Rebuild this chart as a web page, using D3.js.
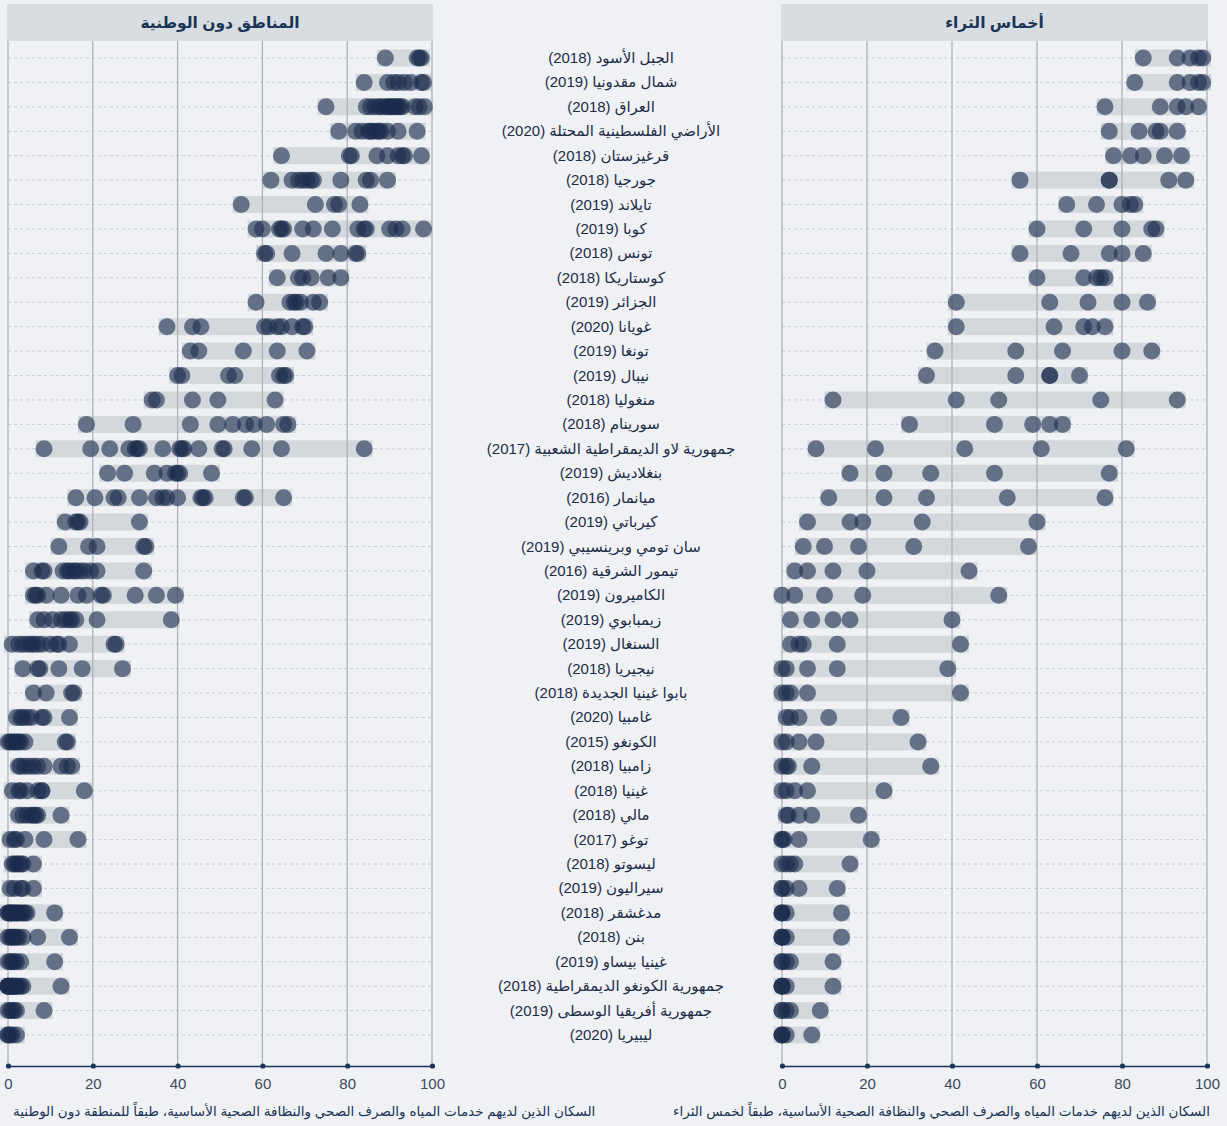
<!DOCTYPE html>
<html>
<head>
<meta charset="utf-8">
<script src="https://cdn.jsdelivr.net/npm/d3@7"></script>
<style>
html,body{margin:0;padding:0;background:#eff1f5;}
svg{display:block;}
</style>
</head>
<body>
<div id="chart"></div>
<script>
const countries = [
"الجبل الأسود (2018)","شمال مقدونيا (2019)","العراق (2018)","الأراضي الفلسطينية المحتلة (2020)","قرغيزستان (2018)",
"جورجيا (2018)","تايلاند (2019)","كوبا (2019)","تونس (2018)","كوستاريكا (2018)",
"الجزائر (2019)","غويانا (2020)","تونغا (2019)","نيبال (2019)","منغوليا (2018)",
"سورينام (2018)","جمهورية لاو الديمقراطية الشعبية (2017)","بنغلاديش (2019)","ميانمار (2016)","كيرباتي (2019)",
"سان تومي وبرينسيبي (2019)","تيمور الشرقية (2016)","الكاميرون (2019)","زيمبابوي (2019)","السنغال (2019)",
"نيجيريا (2018)","بابوا غينيا الجديدة (2018)","غامبيا (2020)","الكونغو (2015)","زامبيا (2018)",
"غينيا (2018)","مالي (2018)","توغو (2017)","ليسوتو (2018)","سيراليون (2019)",
"مدغشقر (2018)","بنن (2018)","غينيا بيساو (2019)","جمهورية الكونغو الديمقراطية (2018)","جمهورية أفريقيا الوسطى (2019)",
"ليبيريا (2020)"
];

const subnational = [
[89, 96.5, 97, 97.5],
[84, 89.5, 91, 92, 93.5, 95, 97.5, 98],
[75, 84.5, 85.5, 86.5, 87.5, 88, 89, 89.5, 90, 90.5, 91, 91.5, 92, 92.5, 93, 96, 97, 98.2],
[78, 82, 83.5, 85, 85.5, 86, 87, 87.5, 88, 89.5, 92, 96.5],
[64.5, 80.5, 81, 87, 89.5, 92, 93, 93.5, 97.5],
[62, 67, 68.5, 69.5, 70.5, 71.5, 72, 78.5, 84.5, 85.5, 89.5],
[55, 72.5, 77, 78, 83],
[58.5, 60, 64, 64.5, 65, 69.5, 72, 76.5, 82.5, 84, 84.5, 90, 91.5, 93, 98],
[60.5, 61, 67, 75, 78.5, 82, 82.5],
[63.5, 68.5, 69.5, 71.5, 75.5, 78.5],
[58.5, 66.5, 67.5, 68, 69, 72, 73.5],
[37.5, 43.5, 45.5, 60.5, 61.5, 63.5, 64.5, 67, 69.5, 70],
[43, 45, 55.5, 63.5, 70.5],
[40, 41, 52, 53.5, 64, 65, 65.5],
[34, 35, 43.5, 49.5, 63],
[18.5, 29.5, 43, 49.5, 53, 56, 58, 61, 65, 66],
[8.5, 19.5, 24, 28.5, 30, 30.5, 31, 36.5, 40.5, 41, 41.5, 45, 50.5, 51, 57.5, 64.5, 84],
[23.5, 27.5, 34.5, 37.5, 39.5, 40, 40.5, 48],
[16, 20.5, 25, 26, 31, 35, 36.5, 37.5, 40, 45.5, 46, 46.5, 55.5, 56, 65],
[13.5, 16, 16.5, 17, 31],
[12, 19, 21, 32, 32.5],
[6, 8, 8.5, 13, 14, 14.5, 15.5, 16, 17, 18, 19.5, 21, 32],
[6, 6.5, 7, 9, 12.5, 16.5, 18.5, 22, 22.5, 30, 35, 39.5],
[7, 8.5, 10.5, 12.5, 13.5, 14.5, 15, 16, 21, 38.5],
[1, 2.5, 3.5, 4.5, 5.5, 6, 7, 8, 10, 11.5, 12, 14.5, 25, 25.5],
[3.5, 7, 7.5, 12, 17.5, 27],
[6, 9, 15, 15.5],
[2, 3, 3.5, 4.5, 5.5, 8, 8.5, 14.5],
[0, 0.5, 1, 1.5, 2, 2.5, 3, 4, 13.5, 14],
[2.5, 3, 4, 5, 6, 7, 8.5, 12.5, 14, 15],
[1, 2.5, 3, 4.5, 7, 8, 8, 18],
[2.5, 3.5, 4.5, 5.5, 6, 6.5, 7, 12.5],
[0.5, 1.5, 2, 4, 8.5, 16.5],
[1, 1.5, 2, 2.5, 3, 3.5, 6],
[0.5, 1.5, 3, 3.5, 6],
[0, 0, 0.5, 0.5, 1, 1, 1.5, 2, 2, 2.5, 3, 3.5, 4, 4.5, 11],
[0, 0.5, 1, 1, 1.5, 2, 2.5, 3.5, 7, 14.5],
[0, 0.5, 1, 1.5, 2, 3, 11],
[0, 0, 0, 0, 0.5, 0.5, 1, 1, 1, 1.5, 1.5, 2, 2, 2.5, 3, 3.5, 12.5],
[0, 0.5, 1, 1.5, 2, 8.5],
[0, 0, 0.5, 1, 2]
];

const quintiles = [
[85, 93, 96, 98, 99],
[83, 93, 96, 98, 99],
[76, 89, 93, 95, 98],
[77, 84, 88, 89, 93],
[78, 82, 85, 90, 94],
[56, 77, 77, 91, 95],
[67, 74, 80, 82, 83],
[60, 71, 80, 87, 88],
[56, 68, 77, 80, 85],
[60, 71, 74, 75, 76],
[41, 63, 72, 80, 86],
[41, 64, 71, 73, 76],
[36, 55, 66, 80, 87],
[34, 55, 63, 63, 70],
[12, 41, 51, 75, 93],
[30, 50, 59, 63, 66],
[8, 22, 43, 61, 81],
[16, 24, 35, 50, 77],
[11, 24, 34, 53, 76],
[6, 16, 19, 33, 60],
[5, 10, 18, 31, 58],
[3, 6, 12, 20, 44],
[0, 3, 10, 19, 51],
[2, 7, 12, 16, 40],
[2, 4, 5, 13, 42],
[0, 1, 6, 13, 39],
[0, 1, 2, 6, 42],
[1, 2, 4, 11, 28],
[0, 1, 4, 8, 32],
[0, 1, 1.5, 7, 35],
[0, 1, 3, 6, 24],
[1, 1.5, 4, 7, 18],
[0, 0, 0.5, 4, 21],
[0, 1, 2, 3, 16],
[0, 0, 1, 4, 13],
[0, 0, 0, 1, 14],
[0, 0, 0, 1, 14],
[0, 0, 1, 2, 12],
[0, 0, 0, 1, 12],
[0, 0, 1, 2, 9],
[0, 0, 0, 1, 7]
];

const tickValues = [0, 20, 40, 60, 80, 100];
const panelTitles = ["المناطق دون الوطنية", "أخماس الثراء"];
const axisTitles = [
"السكان الذين لديهم خدمات المياه والصرف الصحي والنظافة الصحية الأساسية، طبقاً للمنطقة دون الوطنية",
"السكان الذين لديهم خدمات المياه والصرف الصحي والنظافة الصحية الأساسية، طبقاً لخمس الثراء"
];

const W = 1227, H = 1126;
const BG = "#eff1f5";
const NAVY = "#1b3556";
const DOT = "#1a2b4c";
const FONT = "Arial, 'Liberation Sans', 'DejaVu Sans', sans-serif";

const svg = d3.select("#chart").append("svg")
  .attr("width", W).attr("height", H)
  .style("font-family", FONT);
svg.append("rect").attr("width", W).attr("height", H).attr("fill", BG);

const y = d3.scalePoint().domain(countries).range([58, 1035]);
const headerTop = 4, headerBottom = 41, axisY = 1066;
const R = 8.5, barH = 17;

const panels = [
  {data: subnational, x: d3.scaleLinear().domain([0, 100]).range([8, 432]), title: panelTitles[0], axisTitle: axisTitles[0], titleAlign: "left"},
  {data: quintiles, x: d3.scaleLinear().domain([0, 100]).range([782, 1207]), title: panelTitles[1], axisTitle: axisTitles[1], titleAlign: "right"}
];

panels.forEach(p => {
  const g = svg.append("g");
  const [x0, x1] = p.x.range();
  // header
  g.append("rect").attr("x", x0 - 1).attr("y", headerTop).attr("width", x1 - x0 + 2).attr("height", headerBottom - headerTop)
    .attr("fill", "#d8dde2");
  g.append("text").attr("x", (x0 + x1) / 2).attr("y", 28).attr("text-anchor", "middle")
    .style("direction", "rtl")
    .attr("font-size", 15.5).attr("font-weight", "bold").attr("fill", NAVY).text(p.title);

  // dotted row lines
  g.selectAll("line.row").data(countries).join("line").attr("class", "row")
    .attr("x1", x0).attr("x2", x1).attr("y1", d => y(d)).attr("y2", d => y(d))
    .attr("stroke", "#c9cdd4").attr("stroke-width", 1).attr("stroke-dasharray", "3,3");

  // bars
  g.selectAll("rect.bar").data(p.data).join("rect").attr("class", "bar")
    .attr("x", d => p.x(d3.min(d)) - R)
    .attr("width", d => p.x(d3.max(d)) - p.x(d3.min(d)) + 2 * R)
    .attr("y", (d, i) => y(countries[i]) - barH / 2)
    .attr("height", barH)
    .attr("fill", "#d3d8dc");

  // vertical grid
  g.selectAll("line.grid").data(tickValues).join("line").attr("class", "grid")
    .attr("x1", d => p.x(d)).attr("x2", d => p.x(d))
    .attr("y1", headerBottom).attr("y2", axisY)
    .attr("stroke", "#a9aeb6").attr("stroke-width", 1.2);

  // dots
  const flat = [];
  p.data.forEach((arr, i) => arr.forEach(v => flat.push({c: countries[i], v})));
  g.selectAll("circle.dot").data(flat).join("circle").attr("class", "dot")
    .attr("cx", d => p.x(d.v)).attr("cy", d => y(d.c)).attr("r", R)
    .attr("fill", DOT).attr("fill-opacity", 0.6);

  // axis
  const ax = g.append("g").attr("transform", `translate(0,${axisY})`)
    .call(d3.axisBottom(p.x).tickValues(tickValues).tickSize(0).tickPadding(12));
  ax.select(".domain").attr("stroke", NAVY).attr("stroke-width", 1.5);
  ax.selectAll(".tick text").attr("font-size", 15).attr("fill", "#3d4a5c").style("font-family", FONT);
  ax.selectAll(".tick").append("circle").attr("r", 2.6).attr("fill", NAVY);

  // axis title
  const t = g.append("text").attr("y", 1116).attr("font-size", 13.5).attr("fill", NAVY)
    .style("direction", "rtl").attr("text-anchor", "middle").text(p.axisTitle);
  const w = t.node().getComputedTextLength();
  if (p.titleAlign === "left") t.attr("x", 13 + w / 2);
  else t.attr("x", 1210 - w / 2);
});

// country labels
svg.append("g").selectAll("text").data(countries).join("text")
  .attr("x", 611).attr("y", d => y(d) + 5)
  .attr("text-anchor", "middle").style("direction", "rtl")
  .attr("font-size", 15).attr("fill", "#1d2c45").text(d => d);
</script>
</body>
</html>
